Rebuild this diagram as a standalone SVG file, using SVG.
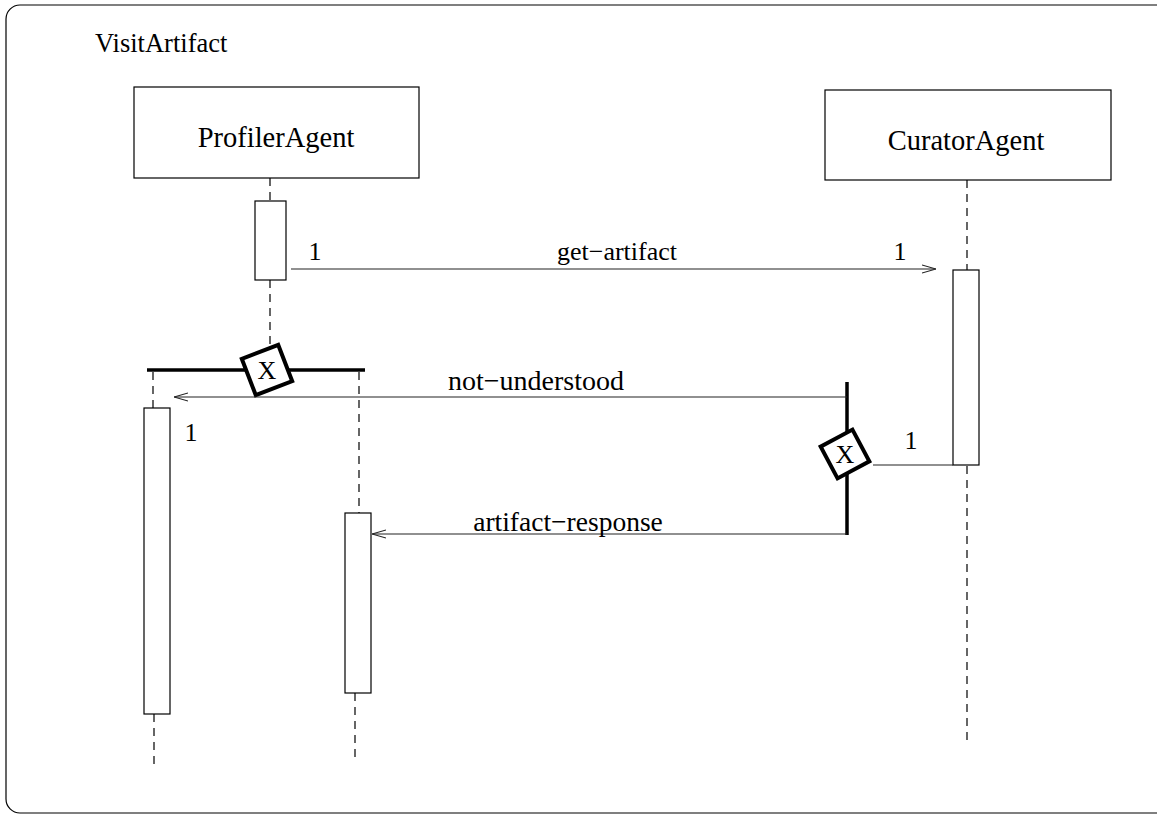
<svg xmlns="http://www.w3.org/2000/svg" width="1157" height="814" viewBox="0 0 1157 814">
<defs>
<style>
.t{font-family:"Liberation Serif","Times New Roman",serif;font-size:26px;fill:#000}
.big{font-size:28.5px}
.box{fill:#fff;stroke:#000;stroke-width:1.2}
.life{stroke:#000;stroke-width:1.2;stroke-dasharray:8 6;fill:none}
.msg{stroke:#222;stroke-width:1.1;fill:none}
.thick{stroke:#000;stroke-width:3.5;fill:none}
.dia{fill:#fff;stroke:#000;stroke-width:4}
</style>
<marker id="arr" viewBox="0 0 14 10" refX="14" refY="5" markerWidth="14" markerHeight="10" markerUnits="userSpaceOnUse" orient="auto">
<path d="M0,1 L14,5 L0,9" fill="none" stroke="#222" stroke-width="1.1"/>
</marker>
</defs>
<rect width="1157" height="814" fill="#fff"/>
<rect id="frame" x="6" y="5" width="1170" height="808" rx="14" fill="none" stroke="#000" stroke-width="1.2"/>
<text class="t" x="95" y="52" style="font-size:26.5px">VisitArtifact</text>

<g id="profiler">
<rect class="box" x="134" y="87" width="285" height="91"/>
<text class="t big" x="276" y="147" text-anchor="middle">ProfilerAgent</text>
<line class="life" x1="270" y1="178" x2="270" y2="200"/>
<rect class="box" x="255" y="201" width="31" height="79"/>
<line class="life" x1="270" y1="280" x2="270" y2="346"/>
</g>

<g id="curator">
<rect class="box" x="825" y="90" width="286" height="90"/>
<text class="t big" x="966" y="150" text-anchor="middle">CuratorAgent</text>
<line class="life" x1="967" y1="180" x2="967" y2="270"/>
<rect class="box" x="953" y="270" width="26" height="195"/>
<line class="life" x1="967" y1="466" x2="967" y2="746"/>
</g>

<g id="split-left">
<line class="thick" x1="147" y1="370" x2="365" y2="370"/>
<rect class="dia" x="247.5" y="350.5" width="39" height="39" transform="rotate(-21 267 370)"/>
<text class="t" x="267" y="379" text-anchor="middle">X</text>
</g>

<g id="left-lifeline">
<line class="life" x1="153" y1="372" x2="153" y2="408"/>
<rect class="box" x="144" y="408" width="26" height="306"/>
<line class="life" x1="154" y1="714" x2="154" y2="765"/>
</g>

<g id="right-lifeline">
<line class="life" x1="359" y1="372" x2="359" y2="513"/>
<rect class="box" x="345" y="513" width="26" height="180"/>
<line class="life" x1="355" y1="693" x2="355" y2="758"/>
</g>

<g id="split-right">
<line class="thick" x1="847" y1="382" x2="847" y2="535"/>
<rect class="dia" x="827" y="436" width="36" height="36" transform="rotate(-28 845 454)"/>
<text class="t" x="845" y="463" text-anchor="middle">X</text>
</g>

<g id="connectors">
<line class="msg" x1="291" y1="269" x2="936" y2="269" marker-end="url(#arr)"/>
<line class="msg" x1="847" y1="397" x2="174" y2="397" marker-end="url(#arr)"/>
<line class="msg" x1="873" y1="465" x2="953" y2="465"/>
<line class="msg" x1="847" y1="534" x2="372" y2="534" marker-end="url(#arr)"/>
</g>

<g id="labels">
<text class="t" x="617" y="260" text-anchor="middle">get−artifact</text>
<text class="t" x="315" y="260" text-anchor="middle">1</text>
<text class="t" x="900" y="260" text-anchor="middle">1</text>
<text class="t" x="536" y="390" text-anchor="middle" style="font-size:28px">not−understood</text>
<text class="t" x="191" y="441" text-anchor="middle">1</text>
<text class="t" x="911" y="449" text-anchor="middle">1</text>
<text class="t" x="568" y="531" text-anchor="middle" style="font-size:27.5px">artifact−response</text>
</g>
</svg>
